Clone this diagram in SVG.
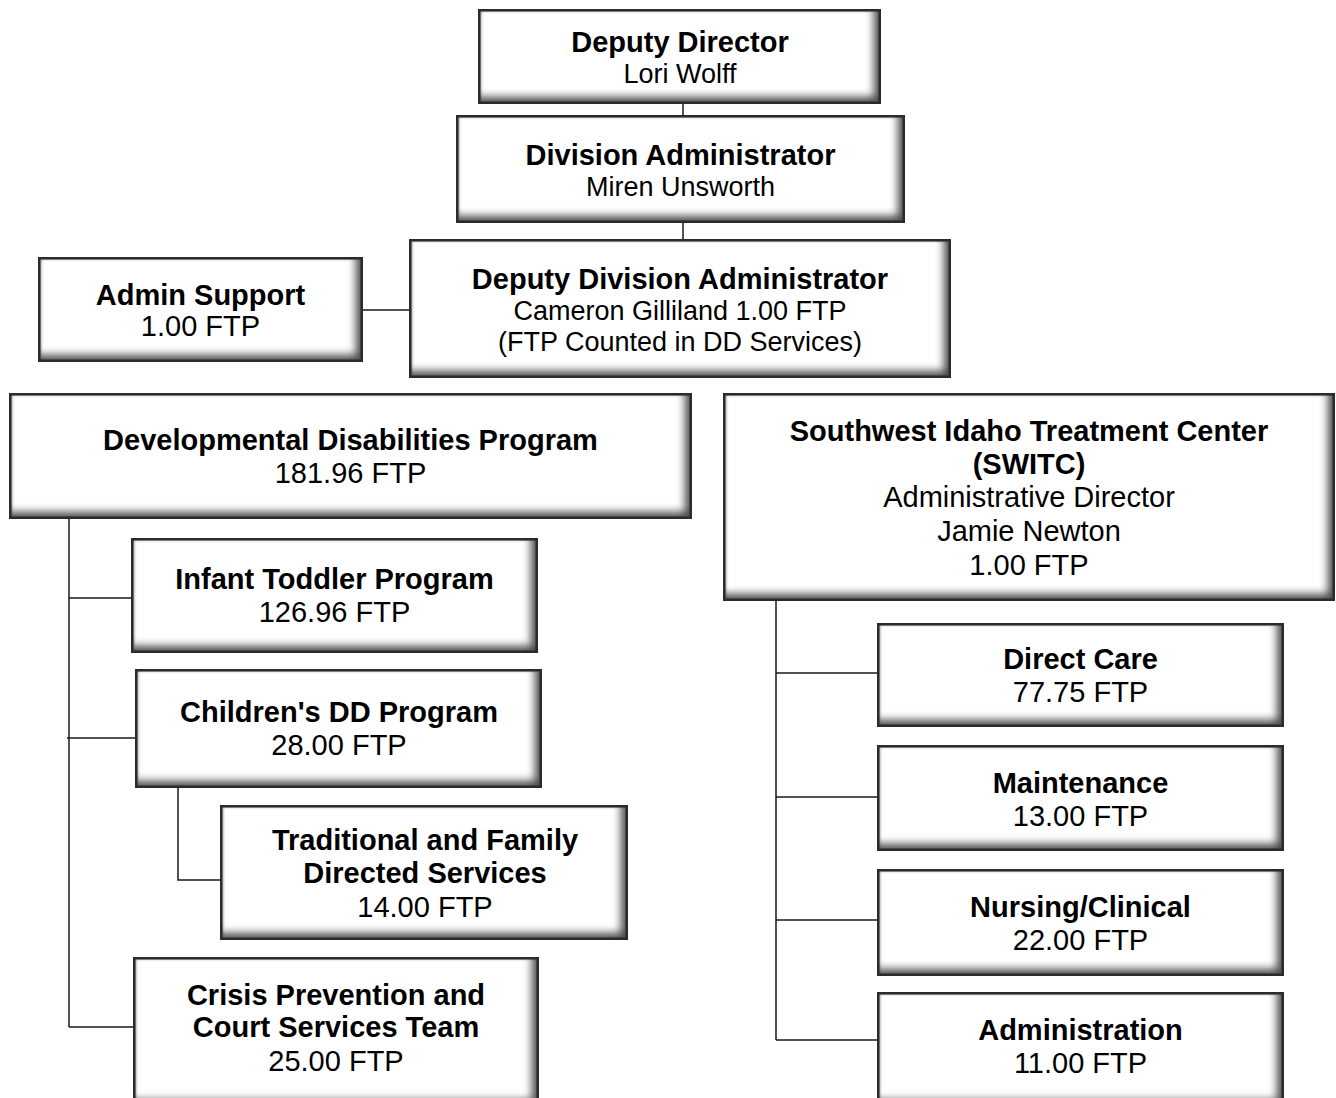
<svg xmlns="http://www.w3.org/2000/svg" width="1336" height="1098" viewBox="0 0 1336 1098">
<defs>
<filter id="bev" x="-5%" y="-5%" width="110%" height="110%" color-interpolation-filters="sRGB">
  <feGaussianBlur in="SourceAlpha" stdDeviation="4" result="b"/>
  <feOffset in="b" dx="-7" dy="-7" result="o"/>
  <feComposite in="SourceAlpha" in2="o" operator="arithmetic" k2="1" k3="-1" result="sh"/>
  <feFlood flood-color="#4a4a4a"/>
  <feComposite in2="sh" operator="in" result="shc"/>
  <feGaussianBlur in="SourceAlpha" stdDeviation="1.8" result="b2"/>
  <feOffset in="b2" dx="2.5" dy="2" result="o2"/>
  <feComposite in="SourceAlpha" in2="o2" operator="arithmetic" k2="1" k3="-1" result="sh2"/>
  <feFlood flood-color="#8a8a8a"/>
  <feComposite in2="sh2" operator="in" result="shc2"/>
  <feMerge><feMergeNode in="SourceGraphic"/><feMergeNode in="shc2"/><feMergeNode in="shc"/></feMerge>
</filter>
<style>
.bx{fill:#ffffff;filter:url(#bev);}
.bd{fill:none;stroke:#2b2b2b;stroke-width:2.5;}
text{font-family:"Liberation Sans",Arial,sans-serif;fill:#000;text-anchor:middle;}
.t{font-weight:bold;font-size:29px;}
.r{font-size:29px;}
.s{font-size:27px;}
.cn{fill:none;stroke:#1a1a1a;stroke-width:1.5;}
</style>
</defs>
<rect width="1336" height="1098" fill="#ffffff"/>
<g id="connectors">
<path class="cn" d="M683,104V115M683,223V239M363,310H409"/>
<path class="cn" d="M69,519V1027M69,598H131M67,738H135M69,1027H133M178,788V880H220"/>
<path class="cn" d="M776,601V1040M776,673H877M776,797H877M776,920H877M776,1040H877"/>
</g>
<g id="deputy-director">
<rect class="bx" x="478" y="9" width="403" height="95"/><rect class="bd" x="479.25" y="10.25" width="400.5" height="92.5"/>
<text class="t" x="680" y="52">Deputy Director</text>
<text class="s" x="680" y="83">Lori Wolff</text>
</g>
<g id="division-administrator">
<rect class="bx" x="456" y="115" width="449" height="108"/><rect class="bd" x="457.25" y="116.25" width="446.5" height="105.5"/>
<text class="t" x="680.5" y="165">Division Administrator</text>
<text class="s" x="680.5" y="196">Miren Unsworth</text>
</g>
<g id="deputy-division-administrator">
<rect class="bx" x="409" y="239" width="542" height="139"/><rect class="bd" x="410.25" y="240.25" width="539.5" height="136.5"/>
<text class="t" x="680" y="289">Deputy Division Administrator</text>
<text class="s" x="680" y="320">Cameron Gilliland 1.00 FTP</text>
<text class="s" x="680" y="351">(FTP Counted in DD Services)</text>
</g>
<g id="admin-support">
<rect class="bx" x="38" y="257" width="325" height="105"/><rect class="bd" x="39.25" y="258.25" width="322.5" height="102.5"/>
<text class="t" x="200.5" y="305">Admin Support</text>
<text class="r" x="200.5" y="336">1.00 FTP</text>
</g>
<g id="dd-program">
<rect class="bx" x="9" y="393" width="683" height="126"/><rect class="bd" x="10.25" y="394.25" width="680.5" height="123.5"/>
<text class="t" x="350.5" y="450">Developmental Disabilities Program</text>
<text class="r" x="350.5" y="483">181.96 FTP</text>
</g>
<g id="switc">
<rect class="bx" x="723" y="393" width="612" height="208"/><rect class="bd" x="724.25" y="394.25" width="609.5" height="205.5"/>
<text class="t" x="1029" y="441">Southwest Idaho Treatment Center</text>
<text class="t" x="1029" y="474">(SWITC)</text>
<text class="r" x="1029" y="507">Administrative Director</text>
<text class="r" x="1029" y="541">Jamie Newton</text>
<text class="r" x="1029" y="575">1.00 FTP</text>
</g>
<g id="infant-toddler">
<rect class="bx" x="131" y="538" width="407" height="115"/><rect class="bd" x="132.25" y="539.25" width="404.5" height="112.5"/>
<text class="t" x="334.5" y="589">Infant Toddler Program</text>
<text class="r" x="334.5" y="622">126.96 FTP</text>
</g>
<g id="childrens-dd">
<rect class="bx" x="135" y="669" width="407" height="119"/><rect class="bd" x="136.25" y="670.25" width="404.5" height="116.5"/>
<text class="t" x="339" y="722">Children's DD Program</text>
<text class="r" x="339" y="755">28.00 FTP</text>
</g>
<g id="traditional-family">
<rect class="bx" x="220" y="805" width="408" height="135"/><rect class="bd" x="221.25" y="806.25" width="405.5" height="132.5"/>
<text class="t" x="425" y="850">Traditional and Family</text>
<text class="t" x="425" y="883">Directed Services</text>
<text class="r" x="425" y="917">14.00 FTP</text>
</g>
<g id="crisis-prevention">
<rect class="bx" x="133" y="957" width="406" height="150"/><rect class="bd" x="134.25" y="958.25" width="403.5" height="147.5"/>
<text class="t" x="336" y="1005">Crisis Prevention and</text>
<text class="t" x="336" y="1037">Court Services Team</text>
<text class="r" x="336" y="1071">25.00 FTP</text>
</g>
<g id="direct-care">
<rect class="bx" x="877" y="623" width="407" height="104"/><rect class="bd" x="878.25" y="624.25" width="404.5" height="101.5"/>
<text class="t" x="1080.5" y="669">Direct Care</text>
<text class="r" x="1080.5" y="702">77.75 FTP</text>
</g>
<g id="maintenance">
<rect class="bx" x="877" y="745" width="407" height="106"/><rect class="bd" x="878.25" y="746.25" width="404.5" height="103.5"/>
<text class="t" x="1080.5" y="793">Maintenance</text>
<text class="r" x="1080.5" y="826">13.00 FTP</text>
</g>
<g id="nursing-clinical">
<rect class="bx" x="877" y="869" width="407" height="107"/><rect class="bd" x="878.25" y="870.25" width="404.5" height="104.5"/>
<text class="t" x="1080.5" y="917">Nursing/Clinical</text>
<text class="r" x="1080.5" y="950">22.00 FTP</text>
</g>
<g id="administration">
<rect class="bx" x="877" y="992" width="407" height="115"/><rect class="bd" x="878.25" y="993.25" width="404.5" height="112.5"/>
<text class="t" x="1080.5" y="1040">Administration</text>
<text class="r" x="1080.5" y="1073">11.00 FTP</text>
</g>
</svg>
